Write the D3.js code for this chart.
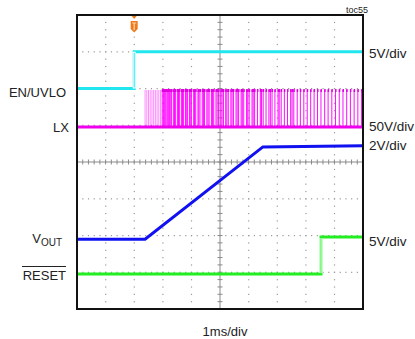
<!DOCTYPE html>
<html>
<head>
<meta charset="utf-8">
<script src="https://cdn.jsdelivr.net/npm/d3@7"></script>
<style>
  body { margin: 0; background: #fff; }
  text { font-family: "Liberation Sans", Arial, sans-serif; fill: #222; }
</style>
</head>
<body>
<div id="scope"></div>
<script>
// time in ms (1ms/div), levels in screen divisions (0 = bottom, 8 = top)
var enTime  = [0, 2.0, 2.0, 10]
var enLevel = [6.0, 6.0, 7.0, 7.0]

var lxBaseLevel = 4.95
var lxPeakLevel = 5.96
var lxSpikeTimes = [2.38, 2.44, 2.50, 2.56, 2.62, 2.68, 2.74, 2.80, 2.86, 2.92, 2.98, 3.02, 3.05, 3.08, 3.11, 3.15, 3.18,
    3.21, 3.24, 3.28, 3.31, 3.38, 3.41, 3.44, 3.51, 3.55, 3.58, 3.65, 3.69, 3.72, 3.79, 3.82, 3.86, 3.93, 3.96, 4.00, 4.08, 4.11, 4.15, 4.23, 4.26, 4.30,
    4.38, 4.42, 4.46, 4.54, 4.58, 4.62, 4.70, 4.74, 4.78, 4.86, 4.90, 4.95, 5.03, 5.07, 5.12, 5.20, 5.24, 5.29, 5.38, 5.42, 5.47, 5.56, 5.60, 5.65,
    5.74, 5.78, 5.83, 5.93, 5.97, 6.02, 6.12, 6.16, 6.21, 6.31, 6.41, 6.45, 6.51, 6.61, 6.71, 6.76, 6.82, 6.92, 7.03, 7.07, 7.14, 7.25,
    7.36, 7.47, 7.52, 7.58, 7.70, 7.81, 7.93, 8.05, 8.17, 8.29, 8.41, 8.53, 8.66, 8.78, 8.91, 9.04, 9.17,
    9.30, 9.43, 9.56, 9.69, 9.82, 9.95]

var voutTime  = [0, 2.38, 6.5, 10]
var voutLevel = [1.9, 1.9, 4.41, 4.44]

var resetTime  = [0, 8.53, 8.53, 10]
var resetLevel = [0.95, 0.95, 1.96, 1.96]

var triggerTime = 2.0

var scaleLabels = [
    { text: "5V/div",  level: 6.87 },
    { text: "50V/div", level: 4.86 },
    { text: "2V/div",  level: 4.35 },
    { text: "5V/div",  level: 1.74 }
]

var svgW = 415, svgH = 339
var box = { left: 77, right: 363, top: 15, bottom: 309 }

var svg = d3.select("#scope").append("svg")
    .attr("width", svgW)
    .attr("height", svgH)

var x = d3.scaleLinear().domain([0, 10]).range([box.left, box.right])
var y = d3.scaleLinear().domain([0, 8]).range([box.bottom, box.top])

// grid: dotted lines at every division, one dot per minor step
var grid = svg.append("g").attr("fill", "#9a9a9a")
var minorX = d3.range(0, 50.01, 1).map(d => d / 5)
var minorY = d3.range(0, 40.01, 1).map(d => d / 5)
d3.range(1, 10).forEach(function(t) {
    if (t == 5) return
    grid.selectAll(null).data(minorY).enter().append("rect")
        .attr("x", x(t) - 0.5).attr("y", d => y(d) - 0.5)
        .attr("width", 1.2).attr("height", 1.2)
})
d3.range(1, 8).forEach(function(l) {
    if (l == 4) return
    grid.selectAll(null).data(minorX).enter().append("rect")
        .attr("x", d => x(d) - 0.5).attr("y", y(l) - 0.5)
        .attr("width", 1.2).attr("height", 1.2)
})

// centre axes with minor ticks
var axes = svg.append("g").attr("stroke", "#8a8a8a").attr("stroke-width", 1)
axes.append("line").attr("x1", x(0)).attr("x2", x(10)).attr("y1", y(4)).attr("y2", y(4))
axes.append("line").attr("x1", x(5)).attr("x2", x(5)).attr("y1", y(0)).attr("y2", y(8))
axes.selectAll(".tx").data(minorX).enter().append("line")
    .attr("x1", d => x(d)).attr("x2", d => x(d))
    .attr("y1", y(4) - 2.5).attr("y2", y(4) + 2.5)
axes.selectAll(".ty").data(minorY).enter().append("line")
    .attr("x1", x(5) - 2.5).attr("x2", x(5) + 2.5)
    .attr("y1", d => y(d)).attr("y2", d => y(d))

var line = d3.line().x(d => x(d[0])).y(d => y(d[1]))

// LX switching spikes
var lx = svg.append("g")
lx.selectAll("line").data(lxSpikeTimes).enter().append("line")
    .attr("x1", d => x(d)).attr("x2", d => x(d))
    .attr("y1", y(lxBaseLevel)).attr("y2", y(lxPeakLevel))
    .attr("stroke", "#ff00ff")
    .attr("stroke-width", 1)
    .attr("opacity", (d, i) => i < 10 ? 0.45 : 0.95)
lx.selectAll("rect").data(lxSpikeTimes.slice(10)).enter().append("rect")
    .attr("x", d => x(d) - 0.5).attr("y", y(lxPeakLevel) - 1)
    .attr("width", 1.5).attr("height", 3)
    .attr("fill", "#e000e0")
lx.append("path")
    .attr("d", line([[0, lxBaseLevel], [10, lxBaseLevel]]))
    .attr("stroke", "#ee00ee").attr("stroke-width", 3).attr("fill", "none")

function trace(times, levels, color) {
    svg.append("path")
        .attr("d", line(times.map((t, i) => [t, levels[i]])))
        .attr("fill", "none")
        .attr("stroke", color)
        .attr("stroke-width", 3)
}
trace(enTime, enLevel, "#22e6ee")
trace(voutTime, voutLevel, "#1010f0")
trace(resetTime, resetLevel, "#22ee22")

// step edges are thin on the scope
svg.append("line").attr("x1", x(triggerTime)).attr("x2", x(triggerTime))
    .attr("y1", y(enLevel[0])).attr("y2", y(enLevel[2]))
    .attr("stroke", "#fff").attr("stroke-width", 3)
svg.append("line").attr("x1", x(triggerTime)).attr("x2", x(triggerTime))
    .attr("y1", y(enLevel[0]) - 1).attr("y2", y(enLevel[2]) + 1)
    .attr("stroke", "#22e6ee").attr("stroke-width", 1)
svg.append("line").attr("x1", x(resetTime[1])).attr("x2", x(resetTime[1]))
    .attr("y1", y(resetLevel[0]) - 1).attr("y2", y(resetLevel[2]) + 1)
    .attr("stroke", "#fff").attr("stroke-width", 3)
svg.append("line").attr("x1", x(resetTime[1])).attr("x2", x(resetTime[1]))
    .attr("y1", y(resetLevel[0]) - 1).attr("y2", y(resetLevel[2]) + 1)
    .attr("stroke", "#22ee22").attr("stroke-width", 1)

// frame
svg.append("rect")
    .attr("x", box.left).attr("y", box.top)
    .attr("width", box.right - box.left).attr("height", box.bottom - box.top)
    .attr("fill", "none").attr("stroke", "#111").attr("stroke-width", 2)

// trigger marker
var tx = x(triggerTime)
var trig = svg.append("g").attr("fill", "#f07a1a")
trig.append("path").attr("d", "M" + (tx - 2.5) + "," + (box.top + 1) + "h5l-2.5,3z")
trig.append("path").attr("d", "M" + (tx - 3.5) + "," + (box.top + 6) + "h7v8l-3.5,3.5l-3.5,-3.5z")
svg.append("path")
    .attr("d", "M" + (tx - 2) + "," + (box.top + 8) + "h4M" + tx + "," + (box.top + 8) + "v7")
    .attr("stroke", "#ffd9b0").attr("stroke-width", 1.2).attr("fill", "none")

// left labels
svg.append("text").attr("x", 66).attr("y", 97).attr("text-anchor", "end")
    .attr("font-size", "13px").text("EN/UVLO")
svg.append("text").attr("x", 69).attr("y", 132).attr("text-anchor", "end")
    .attr("font-size", "13px").text("LX")
var vout = svg.append("text").attr("x", 62).attr("y", 243).attr("text-anchor", "end")
    .attr("font-size", "13px")
vout.append("tspan").text("V")
vout.append("tspan").attr("font-size", "10px").attr("dy", 3).text("OUT")
svg.append("text").attr("x", 66).attr("y", 280).attr("text-anchor", "end")
    .attr("font-size", "13px").text("RESET")
svg.append("line").attr("x1", 22).attr("x2", 66).attr("y1", 266.5).attr("y2", 266.5)
    .attr("stroke", "#222").attr("stroke-width", 1)

// right scale labels
svg.selectAll(".scale").data(scaleLabels).enter().append("text")
    .attr("class", "scale")
    .attr("x", 369)
    .attr("y", d => y(d.level) + 1)
    .attr("font-size", "13.5px")
    .text(d => d.text)

svg.append("text").attr("x", 368).attr("y", 13).attr("text-anchor", "end")
    .attr("font-size", "9px").text("toc55")

svg.append("text").attr("x", 225).attr("y", 336).attr("text-anchor", "middle")
    .attr("font-size", "13px").text("1ms/div")
</script>
</body>
</html>
